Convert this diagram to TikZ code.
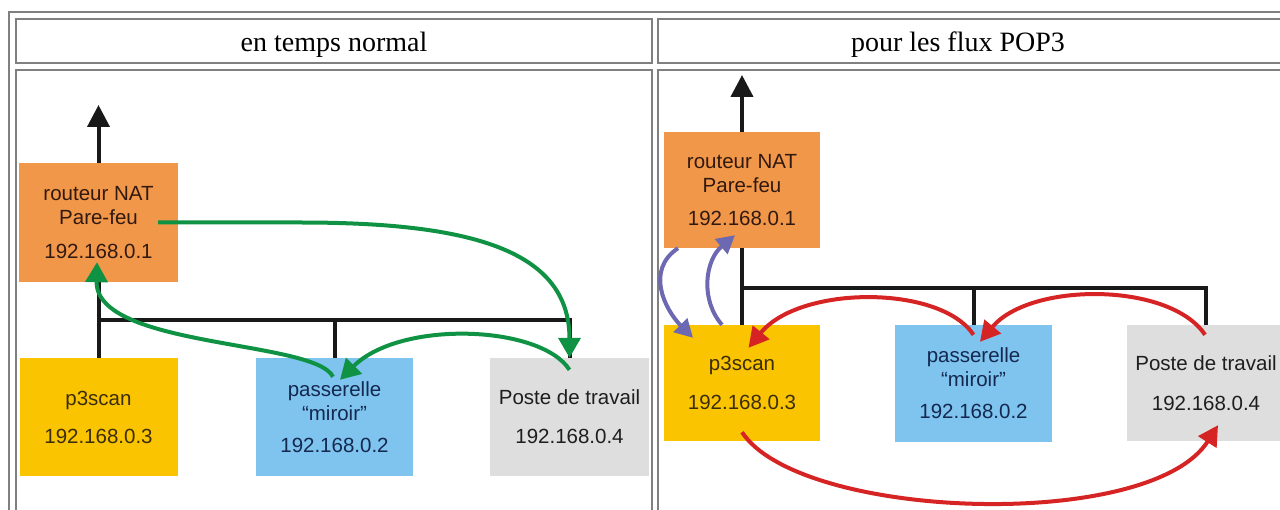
\documentclass[tikz,border=0pt]{standalone}
\usepackage{fontspec}
\setmainfont{Liberation Serif}
\newfontfamily\boxfont{Liberation Sans}
\usetikzlibrary{arrows.meta,calc}

\definecolor{cellline}{RGB}{128,128,128}
\definecolor{routerfill}{RGB}{241,151,74}
\definecolor{scanfill}{RGB}{250,196,0}
\definecolor{mirrorfill}{RGB}{126,196,238}
\definecolor{hostfill}{RGB}{222,222,222}
\definecolor{routertext}{RGB}{50,25,15}
\definecolor{scantext}{RGB}{60,45,10}
\definecolor{mirrortext}{RGB}{20,40,80}
\definecolor{hosttext}{RGB}{30,30,30}
\definecolor{flowgreen}{RGB}{16,146,68}
\definecolor{flowred}{RGB}{214,36,36}
\definecolor{flowpurple}{RGB}{108,104,178}

\tikzset{
  cell/.style={draw=cellline, line width=1.3pt},
  headtext/.style={font=\fontsize{28}{32}\selectfont, anchor=center},
  devbox/.style={inner sep=0pt, align=center,
    font=\boxfont\fontsize{20.5}{24}\selectfont},
  router/.style={devbox, fill=routerfill, text=routertext},
  scanner/.style={devbox, fill=scanfill, text=scantext},
  mirror/.style={devbox, fill=mirrorfill, text=mirrortext},
  host/.style={devbox, fill=hostfill, text=hosttext},
  wire/.style={line width=4pt, draw=black!90},
  uplink/.style={wire, -{Triangle[width=22pt,length=22pt]}},
  greenflow/.style={line width=4pt, draw=flowgreen,
    -{Triangle[width=22pt,length=20pt]}},
  redflow/.style={line width=4pt, draw=flowred,
    -{Triangle[width=21pt,length=20pt]}},
  purpleflow/.style={line width=4pt, draw=flowpurple,
    -{Triangle[width=19pt,length=18pt]}},
}

\begin{document}
\begin{tikzpicture}[x=1pt,y=-1pt]
\useasboundingbox (0,0) rectangle (1280,510);
\fill[white] (0,0) rectangle (1280,510);

% table frame and cells
\draw[cell] (9,12) rectangle (1310,540);
\draw[cell] (16,19) rectangle (652,63);
\draw[cell] (658,19) rectangle (1300,63);
\draw[cell] (16,70) rectangle (652,530);
\draw[cell] (658,70) rectangle (1300,530);

\node[headtext] (hdrL) at (334,45) {en temps normal};
\node[headtext] (hdrR) at (958,45) {pour les flux POP3};

% ---------- left panel: normal traffic ----------
\node[router, minimum width=159pt, minimum height=119pt] (R1) at (98.5,222.5)
  {routeur NAT\\Pare-feu\\[10pt]192.168.0.1};
\node[scanner, minimum width=158pt, minimum height=118pt] (P1) at (98.5,417)
  {p3scan\\[14pt]192.168.0.3};
\node[mirror, minimum width=157pt, minimum height=118pt] (M1) at (334.5,417)
  {passerelle\\“miroir”\\[8pt]192.168.0.2};
\node[host, minimum width=159pt, minimum height=118pt] (W1) at (569.5,417)
  {Poste de travail\\[15pt]192.168.0.4};

\coordinate (netL) at (98.5,105);
\coordinate (busL) at (98.5,320);
\draw[uplink] (R1.north) -- (netL);
\draw[wire] (R1.south) -- (P1.north);
\draw[wire] (busL) -| (W1.north);
\draw[wire] (M1.north) -- (M1.north |- busL);

\draw[greenflow] ([shift={(-20,0)}]R1.east) -- ++(142,0)
  .. controls ++(170,0) and ($(W1.north)+(0,-108)$) .. (W1.north);
\draw[greenflow] ([shift={(0,12)}]W1.north)
  .. controls ++(-29,-45) and ([shift={(65.5,-38)}]M1.north)
  .. ([shift={(5.5,22)}]M1.north);
\draw[greenflow] ([shift={(-1.5,19)}]M1.north)
  .. controls ++(-18,-37) and ([shift={(-3.5,66)}]R1.south)
  .. ([shift={(-1.5,-20)}]R1.south);

% ---------- right panel: POP3 traffic ----------
\node[router, minimum width=156pt, minimum height=116pt] (R2) at (742,190)
  {routeur NAT\\Pare-feu\\[9pt]192.168.0.1};
\node[scanner, minimum width=156pt, minimum height=116pt] (P2) at (742,383)
  {p3scan\\[15pt]192.168.0.3};
\node[mirror, minimum width=157pt, minimum height=117pt] (M2) at (973.5,383.5)
  {passerelle\\“miroir”\\[8pt]192.168.0.2};
\node[host, minimum width=158pt, minimum height=116pt] (W2) at (1206,383)
  {Poste de travail\\[16pt]192.168.0.4};

\coordinate (netR) at (742,75);
\coordinate (busR) at (742,288);
\draw[uplink] (R2.north) -- (netR);
\draw[wire] (R2.south) -- (P2.north);
\draw[wire] (busR) -| (W2.north);
\draw[wire] (M2.north) -- (M2.north |- busR);

\draw[purpleflow] ([shift={(-64,0)}]R2.south)
  .. controls ++(-33,22) and ([shift={(-77,-15)}]P2.north)
  .. ([shift={(-49,13)}]P2.north);
\draw[purpleflow] ([shift={(-20,0)}]P2.north)
  .. controls ++(-22,-25) and ([shift={(-37,12)}]R2.south)
  .. ([shift={(-7,-13)}]R2.south);

\draw[redflow] ([shift={(0,10)}]M2.north)
  .. controls ++(-33,-50) and ([shift={(58,-40)}]P2.north)
  .. ([shift={(6.5,23)}]P2.north);
\draw[redflow] ([shift={(-1,10)}]W2.north)
  .. controls ++(-35,-53) and ([shift={(56.5,-43)}]M2.north)
  .. ([shift={(6.5,17)}]M2.north);
\draw[redflow] ([shift={(0,-9)}]P2.south)
  .. controls ++(58,88) and ([shift={(-56,91)}]W2.south)
  .. ([shift={(12,-16)}]W2.south);
\end{tikzpicture}
\end{document}
